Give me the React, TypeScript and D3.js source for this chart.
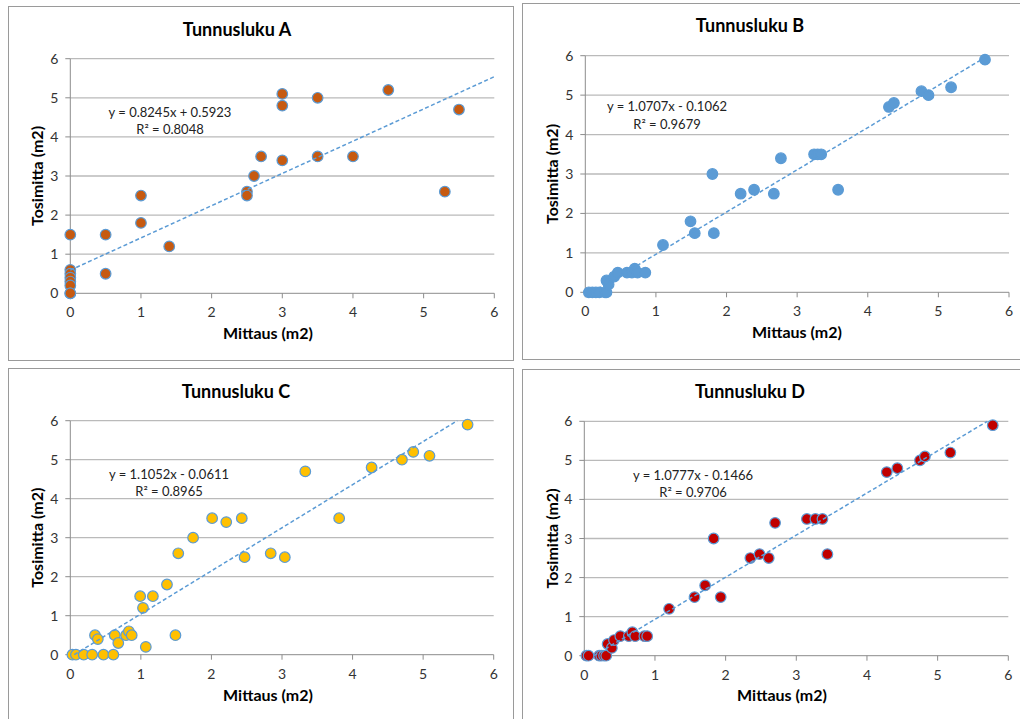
import React from "react";
import * as d3 from "d3";

// ---- Data ----
const titles = ["Tunnusluku A", "Tunnusluku B", "Tunnusluku C", "Tunnusluku D"];
const xTitle = "Mittaus (m2)";
const yTitle = "Tosimitta (m2)";
const ticks = [0, 1, 2, 3, 4, 5, 6];

const aX = [0, 0, 0, 0, 0, 0, 0, 0, 0.5, 0.5, 1, 1, 1.4, 2.5, 2.5, 2.6, 2.7, 3, 3, 3, 3.5, 3.5, 4, 4.5, 5.3, 5.5];
const aY = [1.5, 0.6, 0.5, 0.4, 0.3, 0.2, 0, 0, 1.5, 0.5, 2.5, 1.8, 1.2, 2.6, 2.5, 3.0, 3.5, 5.1, 4.8, 3.4, 5.0, 3.5, 3.5, 5.2, 2.6, 4.7];

const bX = [0.05, 0.1, 0.15, 0.2, 0.28, 0.3, 0.3, 0.33, 0.41, 0.46, 0.59, 0.66, 0.7, 0.74, 0.85, 1.1, 1.49, 1.55, 1.8, 1.82, 2.2, 2.39, 2.67, 2.77, 3.24, 3.29, 3.34, 3.58, 4.3, 4.37, 4.76, 4.86, 5.18, 5.66];
const bY = [0, 0, 0, 0, 0, 0, 0.3, 0.2, 0.4, 0.5, 0.5, 0.5, 0.6, 0.5, 0.5, 1.2, 1.8, 1.5, 3.0, 1.5, 2.5, 2.6, 2.5, 3.4, 3.5, 3.5, 3.5, 2.6, 4.7, 4.8, 5.1, 5.0, 5.2, 5.9];

const cX = [0.03, 0.08, 0.19, 0.31, 0.47, 0.61, 0.35, 0.39, 0.63, 0.68, 0.79, 0.83, 0.87, 0.99, 1.03, 1.07, 1.17, 1.37, 1.49, 1.53, 1.74, 2.01, 2.21, 2.43, 2.47, 2.84, 3.04, 3.33, 3.81, 4.27, 4.7, 4.86, 5.09, 5.63];
const cY = [0, 0, 0, 0, 0, 0, 0.5, 0.4, 0.5, 0.3, 0.5, 0.6, 0.5, 1.5, 1.2, 0.2, 1.5, 1.8, 0.5, 2.6, 3.0, 3.5, 3.4, 3.5, 2.5, 2.6, 2.5, 4.7, 3.5, 4.8, 5.0, 5.2, 5.1, 5.9];

const dX = [0.03, 0.06, 0.21, 0.24, 0.28, 0.31, 0.33, 0.39, 0.42, 0.51, 0.63, 0.68, 0.72, 0.85, 0.89, 1.2, 1.56, 1.71, 1.83, 1.93, 2.35, 2.48, 2.61, 2.7, 3.15, 3.27, 3.37, 3.44, 4.28, 4.43, 4.75, 4.82, 5.18, 5.78];
const dY = [0, 0, 0, 0, 0, 0, 0.3, 0.2, 0.4, 0.5, 0.5, 0.6, 0.5, 0.5, 0.5, 1.2, 1.5, 1.8, 3.0, 1.5, 2.5, 2.6, 2.5, 3.4, 3.5, 3.5, 3.5, 2.6, 4.7, 4.8, 5.0, 5.1, 5.2, 5.9];

const slopes = [0.8245, 1.0707, 1.1052, 1.0777];
const intercepts = [0.5923, -0.1062, -0.0611, -0.1466];
const equations = ["y = 0.8245x + 0.5923", "y = 1.0707x - 0.1062", "y = 1.1052x - 0.0611", "y = 1.0777x - 0.1466"];
const r2Labels = ["R² = 0.8048", "R² = 0.9679", "R² = 0.8965", "R² = 0.9706"];
const trendEnd = [6, null, null, null];

const seriesX = [aX, bX, cX, dX];
const seriesY = [aY, bY, cY, dY];

// ---- Layout / style ----
const fills = ["#C65A11", "#5B9BD5", "#FFC000", "#C00000"];
const FONT = "Lato, 'Open Sans', sans-serif";

const panels = [
  { bx: 8, by: 6, bw: 505, bh: 354, px0: 70.3, px1: 494.3, py6: 58.7, py0: 293.3, tx: 237, ty: 36, xtx: 268, xty: 339, ytx: 43, eqx: 170, eqy: 117, r2y: 134 },
  { bx: 522, by: 3, bw: 510, bh: 356, px0: 585.3, px1: 1009, py6: 55.7, py0: 292.3, tx: 750, ty: 32, xtx: 797, xty: 338, ytx: 558, eqx: 667, eqy: 111, r2y: 129 },
  { bx: 8, by: 368, bw: 505, bh: 360, px0: 70.3, px1: 493.7, py6: 420.7, py0: 654.7, tx: 236, ty: 398, xtx: 268, xty: 701, ytx: 43, eqx: 169, eqy: 479, r2y: 496 },
  { bx: 522, by: 369, bw: 510, bh: 360, px0: 584.3, px1: 1008.3, py6: 421.3, py0: 655.7, tx: 750, ty: 398, xtx: 782, xty: 701, ytx: 558, eqx: 693, eqy: 480, r2y: 497 },
];

function Panel({ i }: { i: number }) {
  const p = panels[i];
  const x = d3.scaleLinear().domain([0, 6]).range([p.px0, p.px1]);
  const y = d3.scaleLinear().domain([0, 6]).range([p.py0, p.py6]);
  const xs = seriesX[i];
  const ys = seriesY[i];
  const m = slopes[i];
  const b = intercepts[i];
  let x0 = d3.min(xs) as number;
  let x1 = trendEnd[i] ?? (d3.max(xs) as number);
  const fx = (v: number) => m * v + b;
  if (fx(x0) < 0) x0 = -b / m;
  if (fx(x1) > 6) x1 = (6 - b) / m;
  const line = d3.line<number>().x((v) => x(v)).y((v) => y(fx(v)));
  const cy = (p.py0 + p.py6) / 2;
  return (
    <g>
      <rect x={p.bx + 0.5} y={p.by + 0.5} width={p.bw} height={p.bh} fill="#fff" stroke="#9a9a9a" strokeWidth={1} />
      {ticks.filter((t) => t > 0).map((t) => (
        <line key={"g" + t} x1={p.px0} x2={p.px1} y1={y(t)} y2={y(t)} stroke="#bababa" strokeWidth={1.3} />
      ))}
      {ticks.map((t) => (
        <line key={"yt" + t} x1={p.px0 - 5} x2={p.px0} y1={y(t)} y2={y(t)} stroke="#8c8c8c" strokeWidth={1} />
      ))}
      <line x1={p.px0} x2={p.px0} y1={p.py6} y2={p.py0} stroke="#8c8c8c" strokeWidth={1} />
      <line x1={p.px0} x2={p.px1} y1={p.py0} y2={p.py0} stroke="#8c8c8c" strokeWidth={1} />
      {ticks.map((t) => (
        <line key={"xt" + t} x1={x(t)} x2={x(t)} y1={p.py0} y2={p.py0 + 5} stroke="#8c8c8c" strokeWidth={1} />
      ))}
      {ticks.map((t) => (
        <text key={"yl" + t} x={p.px0 - 12} y={y(t)} dy="0.36em" textAnchor="end" fontSize={14} fontFamily={FONT} fill="#333">{t}</text>
      ))}
      {ticks.map((t) => (
        <text key={"xl" + t} x={x(t)} y={p.py0 + 24} textAnchor="middle" fontSize={14} fontFamily={FONT} fill="#333">{t}</text>
      ))}
      {xs.map((v, k) => (
        <circle key={k} cx={x(v)} cy={y(ys[k])} r={5.3} fill={fills[i]} stroke="#5B9BD5" strokeWidth={1.2} />
      ))}
      <path d={line([x0, x1]) || ""} fill="none" stroke="#5B9BD5" strokeWidth={1.5} strokeDasharray="4,2.5" />
      <text x={p.eqx} y={p.eqy} textAnchor="middle" fontSize={13} fontFamily={FONT} fill="#222">{equations[i]}</text>
      <text x={p.eqx} y={p.r2y} textAnchor="middle" fontSize={13} fontFamily={FONT} fill="#222">{r2Labels[i]}</text>
      <text x={p.tx} y={p.ty} textAnchor="middle" fontSize={18} fontWeight="bold" fontFamily={FONT} fill="#000">{titles[i]}</text>
      <text x={p.xtx} y={p.xty} textAnchor="middle" fontSize={16} fontWeight="bold" fontFamily={FONT} fill="#000">{xTitle}</text>
      <text transform={`translate(${p.ytx},${cy}) rotate(-90)`} textAnchor="middle" fontSize={16} fontWeight="bold" fontFamily={FONT} fill="#000">{yTitle}</text>
    </g>
  );
}

export default function App() {
  return (
    <svg width={1020} height={719} style={{ position: "absolute", left: 0, top: 0, background: "#fff" }}>
      <rect width={1020} height={719} fill="#fff" />
      {[0, 1, 2, 3].map((i) => (
        <Panel key={i} i={i} />
      ))}
    </svg>
  );
}
